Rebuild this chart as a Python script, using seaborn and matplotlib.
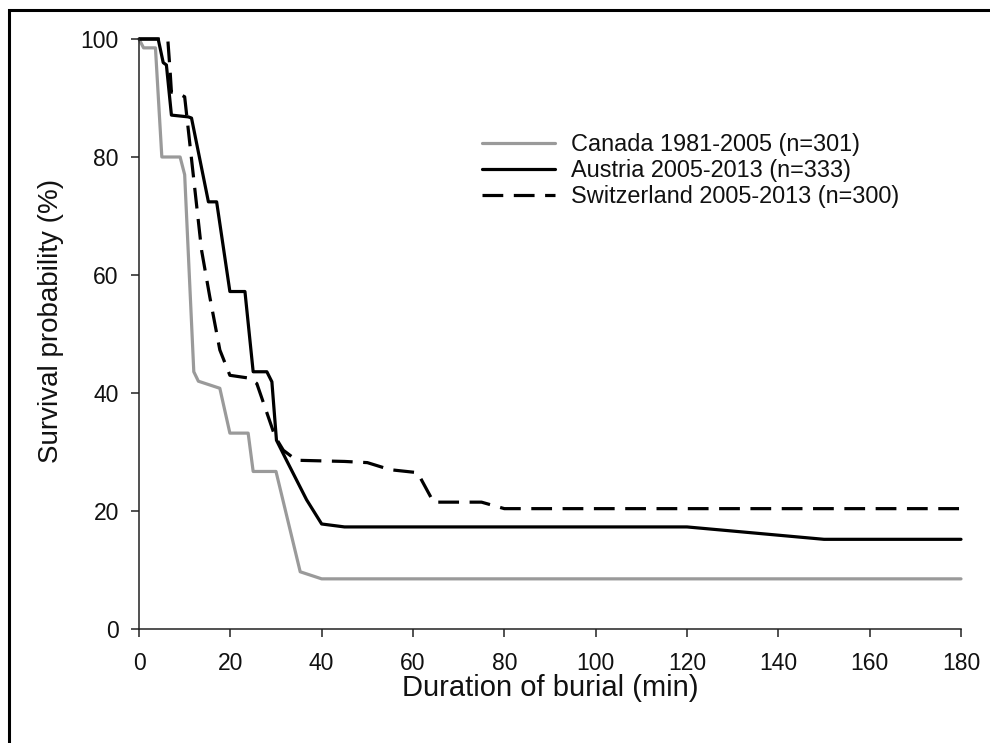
import numpy as np
import pandas as pd
import seaborn as sns
import matplotlib.pyplot as plt
from matplotlib.patches import Rectangle

# veriler (okunan degerler)
canada_t = [0, 1, 3.6, 5, 9, 10, 12, 13, 17.7, 19.9, 23.9, 25, 30, 35.3, 40, 180]
canada_s = [100, 98.5, 98.5, 80, 80, 77, 43.6, 42, 40.8, 33.2, 33.2, 26.7, 26.7, 9.7, 8.5, 8.5]

austria_t = [0, 4.2, 5.3, 6, 7.1, 10.8, 11.5, 15.2, 17, 19.9, 23.2, 25, 28, 29.1, 30.1,
             32.3, 36.7, 40, 45, 120, 150, 180]
austria_s = [100, 100, 96, 95.6, 87.1, 86.8, 86.6, 72.4, 72.4, 57.2, 57.2, 43.6, 43.6, 41.9, 32,
             28.6, 21.9, 17.8, 17.3, 17.3, 15.2, 15.2]

swiss_t = [0, 6.3, 6.8, 7.1, 8.6, 10, 13.7, 15.5, 17.7, 19.9, 24.3, 25.8, 29.8, 31.6, 34.5,
           45, 50, 55, 61, 64.5, 75, 80, 180]
swiss_s = [100, 100, 94.7, 91, 90.8, 90.2, 64.2, 56.3, 47.3, 43, 42.5, 41.6, 32.6, 30.3, 28.6,
           28.4, 28.2, 27, 26.5, 21.5, 21.5, 20.4, 20.4]

labels = ["Canada 1981-2005 (n=301)", "Austria 2005-2013 (n=333)", "Switzerland 2005-2013 (n=300)"]

df = pd.concat([
    pd.DataFrame({"t": canada_t, "s": canada_s, "grp": labels[0]}),
    pd.DataFrame({"t": austria_t, "s": austria_s, "grp": labels[1]}),
    pd.DataFrame({"t": swiss_t, "s": swiss_s, "grp": labels[2]}),
])

sns.set_style("ticks")
plt.rcParams["font.family"] = ["Liberation Sans", "DejaVu Sans"]

fig = plt.figure(figsize=(9.9, 7.43), dpi=100)
ax = fig.add_axes([139/990, 1-629/743, 822/990, 590/743])

palette = {labels[0]: "#9a9a9a", labels[1]: "black", labels[2]: "black"}
dashes = {labels[0]: "", labels[1]: "", labels[2]: (6.5, 3.3)}
sns.lineplot(data=df, x="t", y="s", hue="grp", style="grp", palette=palette, dashes=dashes,
             sort=False, estimator=None, linewidth=2.3, ax=ax)
for ln in ax.lines:
    ln.set_clip_on(False)

ax.set_xlim(0, 180)
ax.set_ylim(0, 100)
ax.set_xticks(np.arange(0, 181, 20))
ax.set_yticks(np.arange(0, 101, 20))
sns.despine(ax=ax)
for sp in ["left", "bottom"]:
    ax.spines[sp].set_linewidth(1.1)
    ax.spines[sp].set_color("#222222")
ax.tick_params(direction="out", length=5.5, width=1.1, color="#222222",
               labelsize=16.5, labelcolor="#111111", pad=9)
ax.tick_params(axis="x", pad=11)

ax.set_xlabel("Duration of burial (min)", fontsize=21, color="#111111")
ax.set_ylabel("Survival probability (%)", fontsize=20, color="#111111")
ax.xaxis.set_label_coords(0.5, -0.077)
ax.yaxis.set_label_coords(-0.091, 0.522)

leg = ax.legend(loc="upper left", bbox_to_anchor=(0.417, 0.84), frameon=False,
                fontsize=16.9, handlelength=3.1, handletextpad=0.72, labelspacing=0.12,
                borderaxespad=0, borderpad=0)
for t in leg.get_texts():
    t.set_color("#111111")

# dis cerceve
fig.patches.append(Rectangle((8.5/990, -0.2), 1.2, 1.2 + (1-10.5/743) - 1, transform=fig.transFigure,
                             fill=False, lw=2.2, edgecolor="black"))

fig.savefig("out.png", dpi=100)
